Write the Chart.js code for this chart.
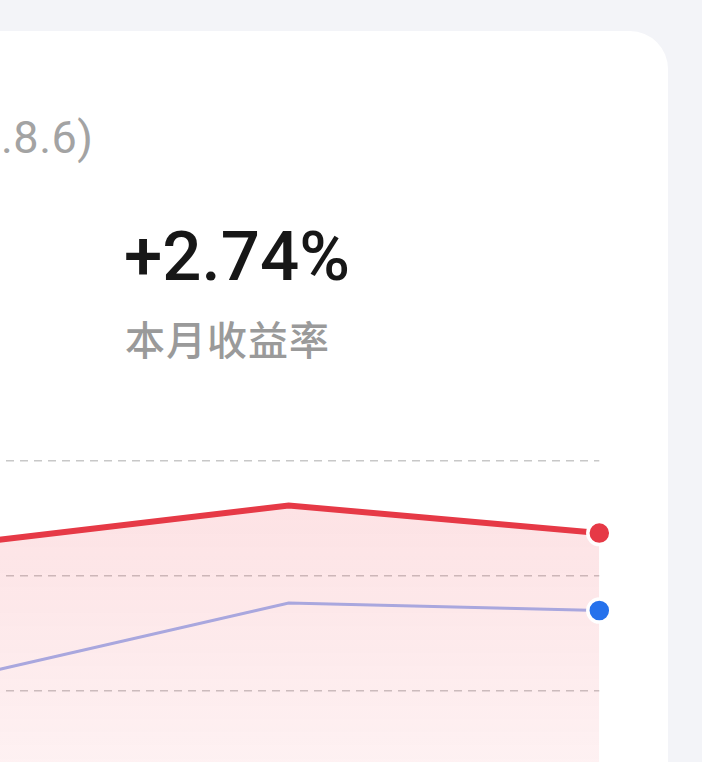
<!DOCTYPE html>
<html>
<head>
<meta charset="utf-8">
<script src="https://cdn.jsdelivr.net/npm/chart.js@4.4.1/dist/chart.umd.min.js"></script>
<style>
  html, body { margin: 0; padding: 0; width: 702px; height: 762px; overflow: hidden; background: #f3f4f8; }
  #card { position: absolute; left: -60px; top: 31px; width: 728px; height: 900px; background: #ffffff; border-radius: 38px; }
  .t { position: absolute; white-space: nowrap; font-family: Roboto, "Noto Sans", sans-serif; }
  #range { left: 1px; top: 108px; font-size: 45px; line-height: 60px; color: #a3a3a3; font-weight: 400; letter-spacing: 0.5px; }
  #big { left: 124px; top: 217px; font-size: 69px; line-height: 80px; color: #171717; font-weight: 500; letter-spacing: 0px; }
  #sub { left: 125px; top: 313px; font-size: 40px; line-height: 50px; color: #9a9a9a; font-weight: 500; font-family: "Noto Sans CJK SC", sans-serif; letter-spacing: 1px; }
  #wrap { position: absolute; left: -40px; top: 440px; width: 680px; height: 400px; }
</style>
</head>
<body>
<div id="card"></div>
<div class="t" id="range">.8.6)</div>
<div class="t" id="big">+2.74%</div>
<div class="t" id="sub">本月收益率</div>
<div id="wrap"><canvas id="c"></canvas></div>
<script>
const categories = ['P1', 'P2', 'P3'];
const portfolioReturn = [2.58, 3.22, 2.74];
const benchmarkReturn = [0.28, 1.52, 1.39];
const yTicks = [-2, 0, 2, 4];

const ctx = document.getElementById('c');
new Chart(ctx, {
  type: 'line',
  data: {
    labels: categories,
    datasets: [
      {
        label: '本月收益率',
        data: portfolioReturn,
        borderColor: '#e63946',
        borderWidth: 6,
        tension: 0,
        order: 2,
        fill: 'start',
        backgroundColor: (c) => {
          const a = c.chart.chartArea;
          if (!a) return 'rgba(232,57,74,0.12)';
          const g = c.chart.ctx.createLinearGradient(0, a.top, 0, a.bottom);
          g.addColorStop(0, 'rgba(240,60,75,0.16)');
          g.addColorStop(1, 'rgba(240,60,75,0.06)');
          return g;
        },
        pointRadius: [0, 0, 11.5],
        pointBackgroundColor: '#e63946',
        pointBorderColor: '#ffffff',
        pointBorderWidth: 3.5,
        clip: false
      },
      {
        label: '基准',
        data: benchmarkReturn,
        borderColor: '#a9a7de',
        borderWidth: 3,
        tension: 0,
        order: 1,
        fill: false,
        pointRadius: [0, 0, 11.5],
        pointBackgroundColor: '#2672ec',
        pointBorderColor: '#ffffff',
        pointBorderWidth: 3.5,
        clip: false
      }
    ]
  },
  options: {
    responsive: true,
    maintainAspectRatio: false,
    animation: false,
    layout: { autoPadding: false, padding: { left: 18.1, right: 40.7, top: 20.7, bottom: 34.9 } },
    plugins: { legend: { display: false }, tooltip: { enabled: false } },
    scales: {
      x: { display: false, offset: false },
      y: {
        min: yTicks[0], max: yTicks[yTicks.length - 1],
        afterBuildTicks: (s) => { s.ticks = yTicks.map(v => ({ value: v })); },
        ticks: { display: false },
        border: { display: false, dash: [8, 6] },
        grid: { color: '#c8c8c8', lineWidth: 1.5, drawTicks: false, tickLength: 0 },
        afterFit: (s) => { s.width = 0; }
      }
    }
  }
});
</script>
</body>
</html>
